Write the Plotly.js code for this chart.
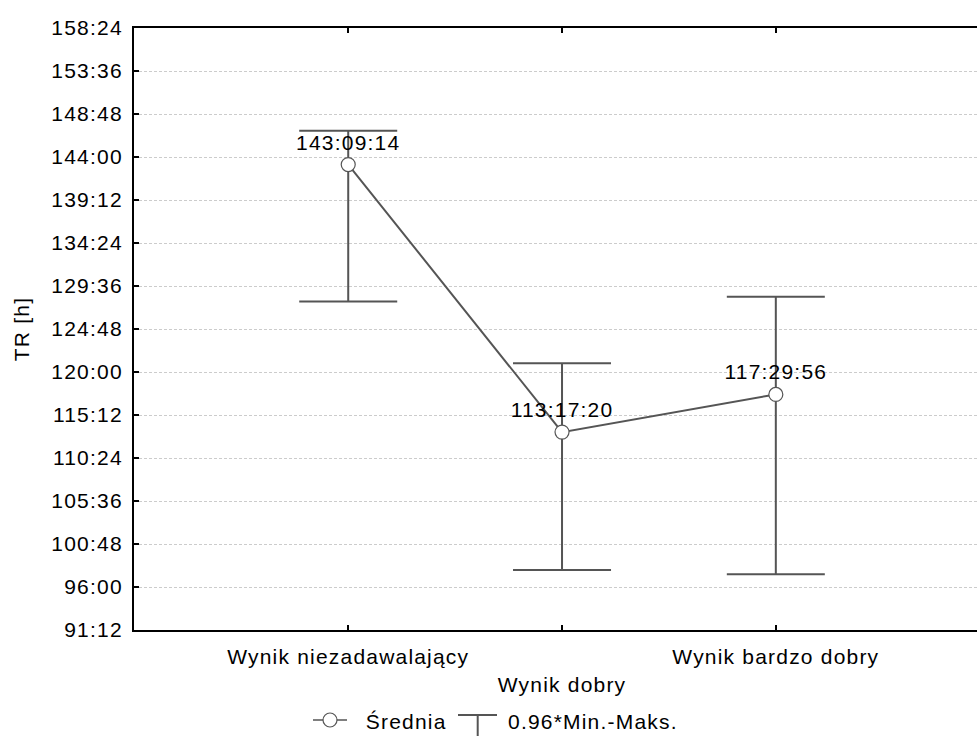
<!DOCTYPE html>
<html>
<head>
<meta charset="utf-8">
<script src="https://cdn.plot.ly/plotly-3.0.1.min.js"></script>
<style>
html, body { margin: 0; padding: 0; background: #fff; }
#chart { width: 977px; height: 736px; }
.main-svg text { letter-spacing: 1.2px; }
</style>
</head>
<body>
<div id="chart"></div>
<script>
// Categories and values (hours, decimal)
const categories = ['Wynik niezadawalający', 'Wynik dobry', 'Wynik bardzo dobry'];
const tickLabels = ['Wynik niezadawalający', '<br>Wynik dobry', 'Wynik bardzo dobry'];
const meanValues = [143.1539, 113.2889, 117.4989];
const meanLabels = ['143:09:14', '113:17:20', '117:29:56'];
const maxValues = [146.93, 120.99, 128.39];
const minValues = [127.87, 97.90, 97.42];
const yTickVals = [91.2, 96, 100.8, 105.6, 110.4, 115.2, 120, 124.8, 129.6, 134.4, 139.2, 144, 148.8, 153.6, 158.4];
const yTickText = ['91:12', '96:00', '100:48', '105:36', '110:24', '115:12', '120:00', '124:48', '129:36', '134:24', '139:12', '144:00', '148:48', '153:36', '158:24'];
const legendMean = 'Średnia';
const legendRange = '0.96*Min.-Maks.';

const FONT = 'Liberation Sans, Arial, sans-serif';
const FS = 21;
const GRAY = '#555555';

const trace = {
  type: 'scatter',
  mode: 'lines+markers+text',
  x: categories,
  y: meanValues,
  text: meanLabels,
  textposition: 'top center',
  textfont: { family: FONT, size: FS, color: '#000' },
  line: { color: GRAY, width: 2 },
  marker: { symbol: 'circle', size: 14, color: '#fff', line: { color: GRAY, width: 1.2 } },
  error_y: {
    type: 'data',
    symmetric: false,
    array: maxValues.map((v, i) => v - meanValues[i]),
    arrayminus: meanValues.map((v, i) => v - minValues[i]),
    color: GRAY,
    thickness: 2,
    width: 49
  },
  showlegend: false,
  hoverinfo: 'skip'
};

// plot area in pixels: x 134..977, y 28..630
const L = 134, T = 28, W = 977 - 134, H = 630 - 28;
const px = v => (v - L) / W;
const py = v => (T + H - v) / H;

const layout = {
  width: 977,
  height: 736,
  margin: { l: L, r: 0, t: T, b: 736 - 630 },
  paper_bgcolor: '#fff',
  plot_bgcolor: '#fff',
  font: { family: FONT, size: FS, color: '#000' },
  xaxis: {
    type: 'category',
    range: [-1.002, 2.941],
    tickmode: 'array',
    tickvals: categories,
    ticktext: tickLabels,
    ticks: 'inside',
    ticklen: 5,
    tickwidth: 1.5,
    tickcolor: '#000',
    showline: true,
    linecolor: '#000',
    linewidth: 2,
    mirror: 'ticks',
    showgrid: false,
    zeroline: false,
    ticklabelstandoff: 7,
    tickfont: { family: FONT, size: FS, color: '#000' }
  },
  yaxis: {
    range: [91.2, 158.4],
    tickmode: 'array',
    tickvals: yTickVals,
    ticktext: yTickText,
    ticks: 'inside',
    ticklen: 5,
    tickwidth: 1.5,
    tickcolor: '#000',
    showline: true,
    linecolor: '#000',
    linewidth: 2,
    mirror: false,
    showgrid: true,
    gridcolor: '#cccccc',
    gridwidth: 1,
    griddash: '3px,2px',
    zeroline: false,
    ticklabelstandoff: 5,
    tickfont: { family: FONT, size: FS, color: '#000' },
    title: { text: 'TR [h]', standoff: 23, font: { family: FONT, size: FS, color: '#000' } }
  },
  shapes: [
    // legend: line + circle
    { type: 'line', xref: 'paper', yref: 'paper', x0: px(313), x1: px(347), y0: py(720), y1: py(720), line: { color: GRAY, width: 1.5 } },
    { type: 'circle', xref: 'paper', yref: 'paper', xsizemode: 'pixel', ysizemode: 'pixel',
      xanchor: px(330), yanchor: py(720), x0: -7, x1: 7, y0: -7, y1: 7,
      fillcolor: '#fff', line: { color: GRAY, width: 1.2 } },
    // legend: T symbol
    { type: 'line', xref: 'paper', yref: 'paper', x0: px(458), x1: px(497), y0: py(715), y1: py(715), line: { color: GRAY, width: 2 } },
    { type: 'line', xref: 'paper', yref: 'paper', x0: px(477.7), x1: px(477.7), y0: py(715), y1: py(740), line: { color: GRAY, width: 2 } }
  ],
  annotations: [
    { xref: 'paper', yref: 'paper', x: px(368), y: py(721), xanchor: 'left', yanchor: 'middle', showarrow: false,
      text: legendMean, font: { family: FONT, size: FS, color: '#000' } },
    { xref: 'paper', yref: 'paper', x: px(515), y: py(721), xanchor: 'left', yanchor: 'middle', showarrow: false,
      text: legendRange, font: { family: FONT, size: FS, color: '#000' } }
  ]
};

Plotly.newPlot('chart', [trace], layout, { staticPlot: true, displayModeBar: false });
</script>
</body>
</html>
